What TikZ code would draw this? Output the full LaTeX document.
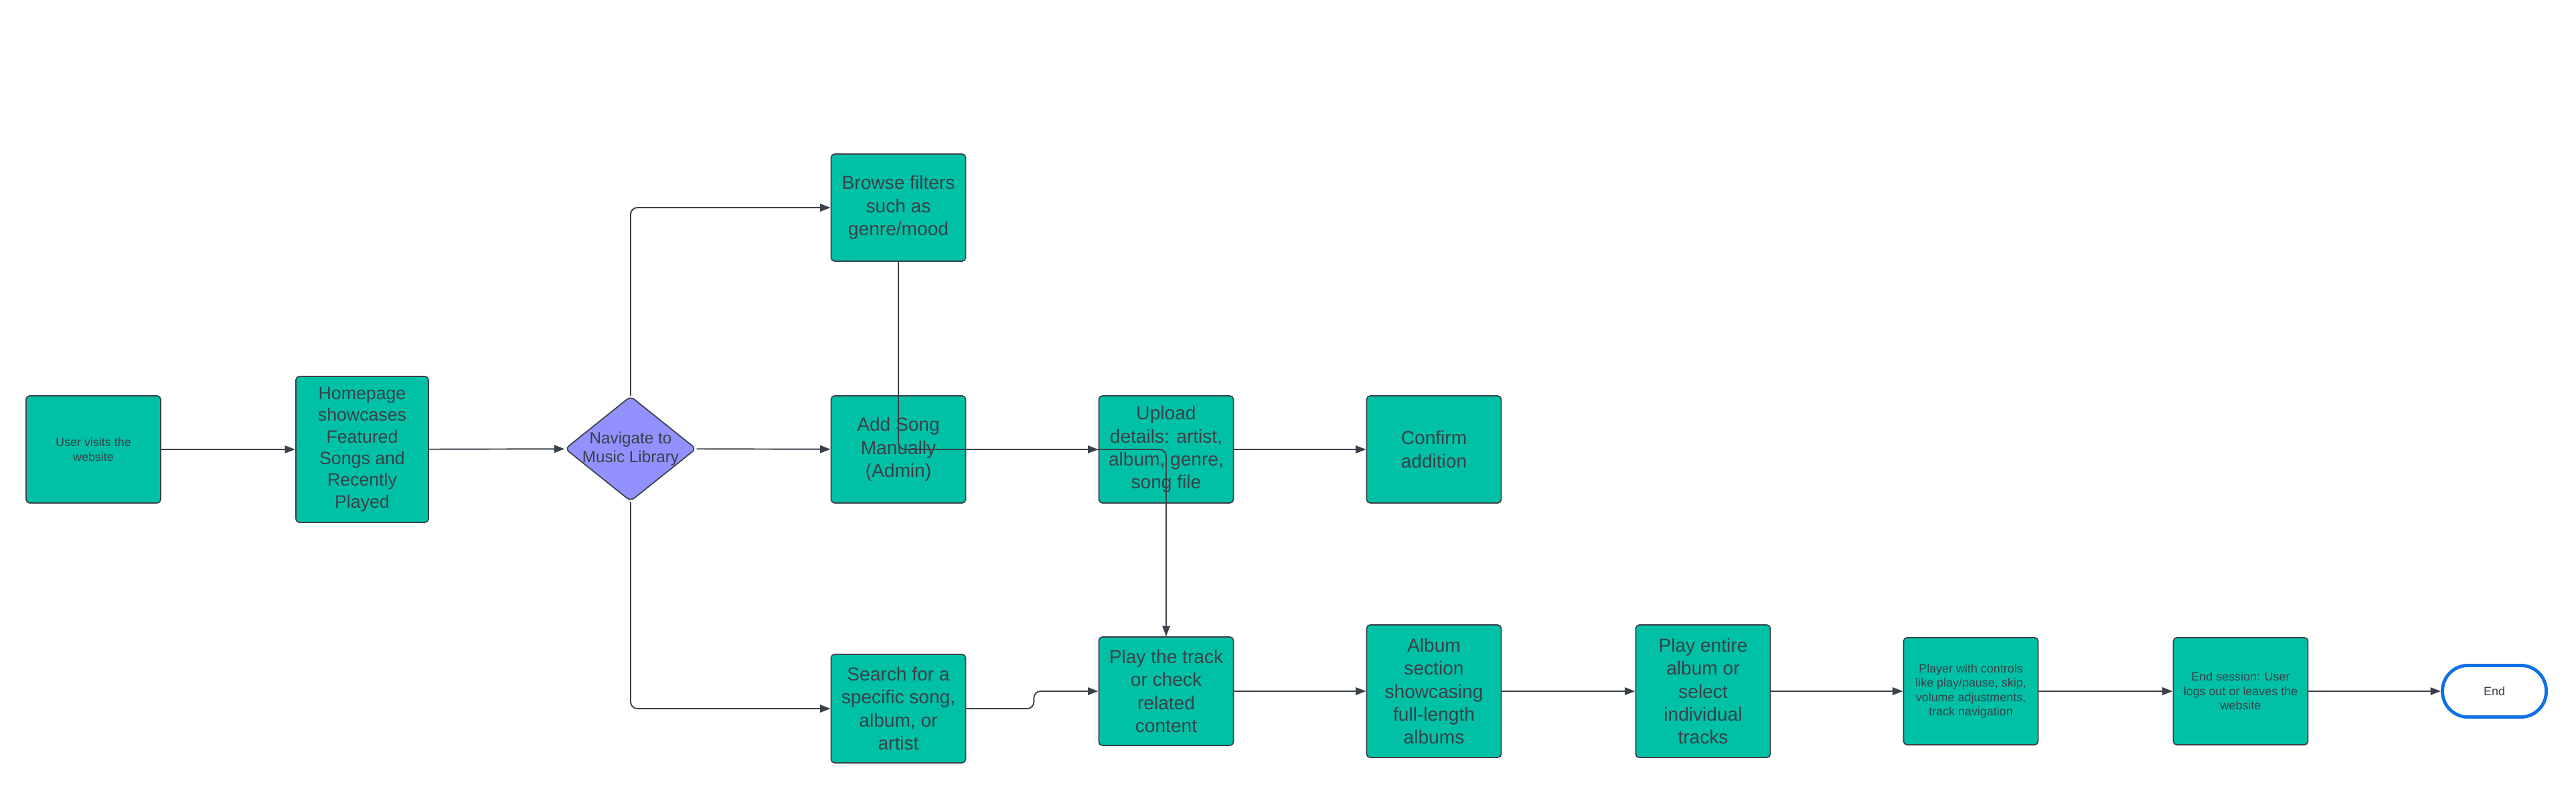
\documentclass[tikz,border=0pt]{standalone}
\usepackage{fontspec}
\setmainfont{Liberation Sans}
\usetikzlibrary{arrows.meta,shapes.geometric}
\definecolor{boxteal}{HTML}{00C1A6}
\definecolor{navlilac}{HTML}{9391FD}
\definecolor{edgegray}{HTML}{3A414A}
\definecolor{endblue}{HTML}{1071E5}
\begin{document}
\begin{tikzpicture}[x=1cm,y=-1cm,
 stepbox/.style={draw=edgegray,line width=0.5pt,fill=boxteal,rounded corners=1.5pt,minimum width=2.01cm,minimum height=1.6cm,inner sep=0pt,align=center,text=edgegray,font=\fontsize{8}{9.8}\selectfont},
 smallbox/.style={stepbox,font=\fontsize{5.1}{6.1}\selectfont},
 choice/.style={diamond,draw=edgegray,line width=0.5pt,fill=navlilac,rounded corners=2pt,minimum width=1.96cm,minimum height=1.57cm,inner sep=0pt},
 stopbox/.style={draw=endblue,line width=1.4pt,fill=white,rounded corners=0.38cm,minimum width=1.55cm,minimum height=0.77cm,text=edgegray,font=\fontsize{5.1}{6.1}\selectfont},
 flow/.style={draw=edgegray,line width=0.55pt,-{Triangle[length=4.4pt,width=3.2pt]}}]
 \useasboundingbox (0,0) rectangle (38.48,11.81);
 \node[smallbox] (visit) at (1.395,6.71) {User visits the\\website};
 \node[stepbox,minimum width=1.98cm,minimum height=2.18cm,font=\fontsize{7.6}{9.2}\selectfont] (home) at (5.41,6.71) {Homepage\\showcases\\Featured\\Songs and\\Recently\\Played};
 \node[choice,label={[text=edgegray,align=center,font=\fontsize{6.9}{8.1}\selectfont]center:Navigate to\\Music Library}] (nav) at (9.42,6.70) {};
 \node[stepbox] (browse) at (13.42,3.10) {Browse filters\\such as\\genre/mood};
 \node[stepbox] (addsong) at (13.42,6.71) {Add Song\\Manually\\(Admin)};
 \node[stepbox] (upload) at (17.42,6.71) {Upload\\details: artist,\\album, genre,\\song file};
 \node[stepbox] (confirm) at (21.42,6.71) {Confirm\\addition};
 \node[stepbox,minimum height=1.62cm] (search) at (13.42,10.58) {Search for a\\specific song,\\album, or\\artist};
 \node[stepbox,minimum height=1.62cm] (playtrack) at (17.42,10.32) {Play the track\\or check\\related\\content};
 \node[stepbox,minimum height=1.98cm] (album) at (21.42,10.32) {Album\\section\\showcasing\\full-length\\albums};
 \node[stepbox,minimum height=1.98cm] (playall) at (25.44,10.32) {Play entire\\album or\\select\\individual\\tracks};
 \node[smallbox] (player) at (29.44,10.32) {Player with controls\\like play/pause, skip,\\volume adjustments,\\track navigation};
 \node[smallbox] (endsess) at (33.47,10.32) {End session: User\\logs out or leaves the\\website};
 \node[stopbox] (stop) at (37.26,10.32) {End};
 \draw[flow] (visit) -- (home);
 \draw[flow] (home) -- (nav);
 \draw[flow] (nav) -- (addsong);
 \draw[flow,rounded corners=0.1cm] (nav.north) |- (browse);
 \draw[flow,rounded corners=0.1cm] (nav.south) |- (search);
 \draw[flow] (addsong) -- (upload);
 \draw[flow] (upload) -- (confirm);
 \draw[flow,rounded corners=0.1cm] (browse.south) |- (upload.center) -- (playtrack.north);
 \draw[flow,rounded corners=0.1cm] (search.east) -- ++(1.01,0) |- (playtrack.west);
 \draw[flow] (playtrack) -- (album);
 \draw[flow] (album) -- (playall);
 \draw[flow] (playall) -- (player);
 \draw[flow] (player) -- (endsess);
 \draw[flow] (endsess) -- (stop);
\end{tikzpicture}
\end{document}
